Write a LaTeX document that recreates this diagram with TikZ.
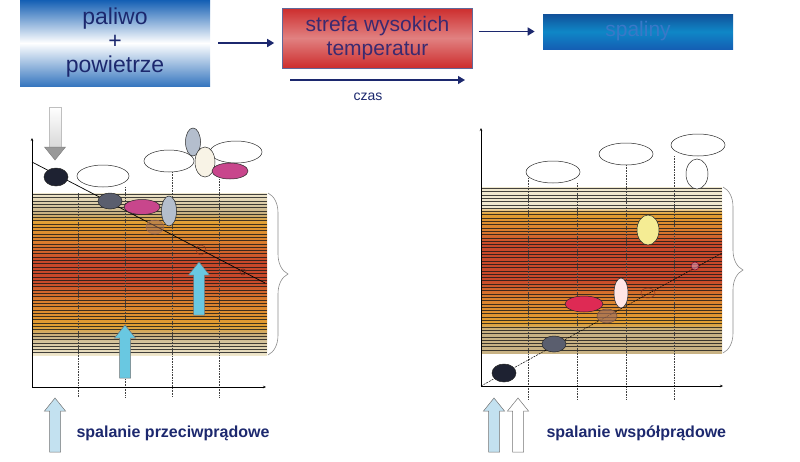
\documentclass[tikz,border=0pt]{standalone}
\usepackage{fontspec}
\setmainfont{Liberation Sans}
\usepackage{tikz}
\usetikzlibrary{arrows.meta,positioning,decorations.pathreplacing}
\definecolor{navy}{RGB}{28,40,110}
\definecolor{zonetext}{RGB}{58,42,112}
\definecolor{fluegas}{RGB}{58,120,200}
\definecolor{boxblue}{RGB}{20,95,180}
\definecolor{boxred}{RGB}{205,45,45}
\definecolor{cream}{RGB}{240,232,206}
\definecolor{tan}{RGB}{200,178,132}
\definecolor{golden}{RGB}{226,160,50}
\definecolor{deeporange}{RGB}{218,125,45}
\definecolor{hotred}{RGB}{200,72,42}
\definecolor{darkblob}{RGB}{30,34,50}
\definecolor{greyblob}{RGB}{90,94,110}
\definecolor{pinkblob}{RGB}{200,70,140}
\definecolor{paleblob}{RGB}{180,190,205}
\definecolor{ashblob}{RGB}{160,110,90}
\definecolor{airblue}{RGB}{105,200,225}
\definecolor{lightair}{RGB}{195,225,240}
\pgfdeclareverticalshading{leftband}{100bp}{%
  color(0bp)=(cream); color(25bp)=(cream); color(31bp)=(tan);
  color(34bp)=(golden); color(42bp)=(deeporange); color(48bp)=(hotred);
  color(54bp)=(hotred); color(60bp)=(deeporange); color(66bp)=(golden);
  color(69bp)=(tan); color(75bp)=(cream); color(100bp)=(cream)}
\pgfdeclareverticalshading{rightband}{100bp}{%
  color(0bp)=(tan); color(25bp)=(tan); color(32bp)=(tan);
  color(34bp)=(golden); color(42bp)=(deeporange); color(47bp)=(hotred);
  color(58bp)=(hotred); color(62bp)=(deeporange); color(67bp)=(golden);
  color(69bp)=(cream); color(75bp)=(cream); color(100bp)=(cream)}
\tikzset{
    topbox/.style={
        draw=navy!70,
        line width=0.6pt,
        minimum width=190pt,
        align=center,
        font=\fontsize{21}{24}\selectfont
    },
    flowarrow/.style={
        line width=1.6pt,
        navy,
        -{Triangle[length=7pt, width=8pt]}
    },
    axisline/.style={
        line width=0.5pt,
        -{Stealth[length=3pt, width=2.5pt]}
    },
    gridline/.style={densely dotted, line width=0.6pt, black!75},
    stripe/.style={line width=0.9pt, black!90, opacity=0.8},
    blob/.style={draw=black!85, line width=0.5pt},
    bracket/.style={decorate, decoration={brace, amplitude=20pt}, black!45, line width=0.6pt}
}
% fat arrow pointing up: x, tip y, bottom y, fill
\newcommand{\fatarrow}[4]{%
  \draw[fill=#4, draw=black!55, line width=0.5pt]
    (#1-5.5,#3) -- (#1-5.5,#2+13) -- (#1-10.5,#2+13) -- (#1,#2)
    -- (#1+10.5,#2+13) -- (#1+5.5,#2+13) -- (#1+5.5,#3) -- cycle;}

\begin{document}
\begin{tikzpicture}[x=1pt,y=-1pt]
    \useasboundingbox (0,0) rectangle (800,461);
    % ===================== top row =====================
    \node[topbox, draw=none, minimum height=86pt, top color=boxblue, bottom color=boxblue!85,
          middle color=white, text=navy, font=\fontsize{23}{24}\selectfont] (mix) at (115,43) {paliwo\\+\\powietrze};
    \node[topbox, minimum height=60pt, top color=boxred, bottom color=boxred,
          middle color=boxred!60!white, text=zonetext] (zone) at (377.5,38) {strefa wysokich\\temperatur};
    \node[topbox, draw=none, minimum height=35pt, top color=boxblue!85!black, bottom color=boxblue,
          middle color=boxblue!75!cyan, text=fluegas] (gas) at (638,31.5) {spaliny};
    \draw[flowarrow] ([xshift=8pt]mix.east) -- ([xshift=-8pt]mix.east -| zone.west);
    \draw[flowarrow] ([xshift=6pt]zone.east |- gas.west) -- ([xshift=-8pt]gas.west);
    \coordinate (t0) at (290,80);
    \coordinate (t1) at (465,80);
    \draw[flowarrow, line width=1.3pt] (t0) -- (t1);
    \node[navy, font=\fontsize{14}{16}\selectfont] (czas) at (368,97) {czas};

    % ===================== left chart =====================
    \fill[shading=leftband] (32,193) rectangle (267,355);
    \foreach \y in {194.5,197.8,...,354} \draw[stripe] (32,\y) -- (267,\y);
    \draw[gridline] (78,193) -- (78,397);
    \draw[gridline] (125,187) -- (125,397);
    \draw[gridline] (172,172) -- (172,397);
    \draw[gridline] (219,179) -- (219,397);
    \draw[axisline] (32,387) -- (32,138);
    \draw[axisline] (32,387) -- (266,387);
    \draw[bracket] (268,193) -- (268,355);
    \draw[line width=0.7pt] (32,162) -- (265,283);

    \draw[blob, fill=darkblob] (56,177) ellipse (12 and 9);
    \draw[blob, fill=white] (103,176) ellipse (26 and 11);
    \draw[blob, fill=greyblob] (110,201) ellipse (12 and 8);
    \draw[blob, fill=pinkblob] (142,207) ellipse (18 and 7.5);
    \draw[blob, fill=paleblob] (169,211) ellipse (7.5 and 15);
    \draw[blob, draw=ashblob, fill=ashblob, fill opacity=0.5] (155,227) ellipse (9 and 7);
    \draw[blob, draw=hotred!70!black, fill=none] (201,250) circle (5);
    \draw[blob, draw=hotred!50!black, fill=none] (243,272) circle (3);
    \draw[blob, fill=white] (169,161) ellipse (25 and 11);
    \draw[blob, fill=paleblob] (193,142) ellipse (7.5 and 14);
    \draw[blob, fill=white] (236,152) ellipse (26 and 11);
    \draw[blob, fill=cream!50!white] (205,162) ellipse (10 and 15);
    \draw[blob, fill=pinkblob] (230,171) ellipse (18 and 8);

    % gray arrow downwards
    \draw[top color=white, bottom color=black!15, draw=black!25, line width=0.5pt] (49,107) rectangle (61,147);
    \draw[fill=black!40, draw=black!50, line width=0.5pt] (44.5,147) -- (65.5,147) -- (55,160) -- cycle;
    \fatarrow{199}{262}{315}{airblue}
    \fatarrow{125}{325}{378}{airblue}
    \fatarrow{55}{398}{452}{lightair}
    \node[navy, anchor=west, font=\bfseries\fontsize{16}{18}\selectfont] (counter) at (73,433) {spalanie przeciwprądowe};

    % ===================== right chart =====================
    \fill[shading=rightband] (481,187) rectangle (722,353);
    \foreach \y in {188.5,191.8,...,352} \draw[stripe] (481,\y) -- (722,\y);
    \draw[gridline] (528,178) -- (528,400);
    \draw[gridline] (577,183) -- (577,400);
    \draw[gridline] (626,165) -- (626,400);
    \draw[gridline] (674,156) -- (674,400);
    \draw[axisline] (481,386) -- (481,128);
    \draw[axisline] (481,386) -- (723,386);
    \draw[bracket] (723,187) -- (723,353);
    \draw[line width=0.5pt, dashed, dash pattern=on 2pt off 1pt] (481,386) -- (722,253);

    \draw[blob, fill=white] (553,172) ellipse (27 and 11);
    \draw[blob, fill=white] (626,154) ellipse (27 and 11);
    \draw[blob, fill=white] (698,145) ellipse (27 and 11);
    \draw[blob, fill=white] (697,174) ellipse (11 and 15);
    \draw[blob, fill=yellow!30!cream] (648,230) ellipse (11 and 15);
    \draw[blob, draw=purple!60!black, fill=purple!40, fill opacity=0.6] (695,266) circle (4);
    \draw[blob, draw=hotred!70!black, fill=none] (648,293) ellipse (7 and 5);
    \draw[blob, fill=pink!40!white] (621,293) ellipse (7 and 15);
    \draw[blob, fill=pinkblob!60!red] (584,304) ellipse (19 and 8);
    \draw[blob, draw=ashblob!70!black, fill=ashblob, fill opacity=0.7] (607,316) ellipse (10 and 7);
    \draw[blob, fill=greyblob] (554,344) ellipse (12 and 8);
    \draw[blob, fill=darkblob] (504,373) ellipse (12 and 9);

    \fatarrow{494}{398}{452}{lightair}
    \fatarrow{518}{398}{452}{white}
    \node[navy, anchor=west, font=\bfseries\fontsize{16}{18}\selectfont] (cocurrent) at (543,433) {spalanie współprądowe};
\end{tikzpicture}
\end{document}
